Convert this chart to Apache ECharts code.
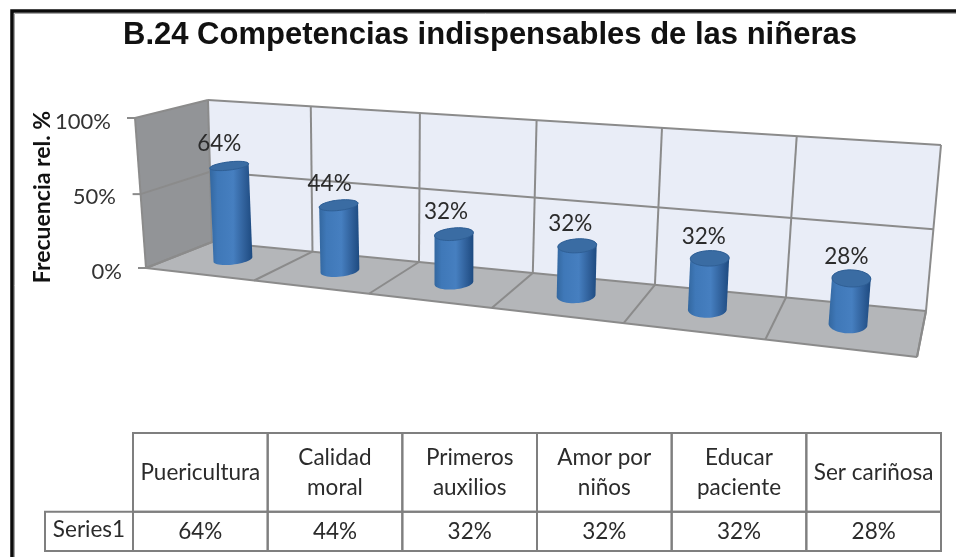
<!DOCTYPE html>
<html><head><meta charset="utf-8">
<style>html,body{margin:0;padding:0;background:#fff}#c{width:956px;height:557px}</style>
<script src="https://cdn.jsdelivr.net/npm/echarts@6/dist/echarts.min.js"></script>
</head><body><div id="c"></div>
<script>
const categories = ['Puericultura','Calidad\nmoral','Primeros\nauxilios','Amor por\nniños','Educar\npaciente','Ser cariñosa'];
const values = [64,44,32,32,32,28];
const yTicks = [0,50,100];
const seriesName = 'Series1';
const titleText = 'B.24 Competencias indispensables de las niñeras';
const yName = 'Frecuencia rel. %';

// projection of the plot box
const backQuad = [[212,242],[926,311],[941,145],[208,100]];
const frontQuad = [[146,268],[917,357],[932,182],[135,118]];
function homography(q){
  const [p0,p1,p2,p3]=q; // (0,0),(1,0),(1,1),(0,1)
  const dx1=p1[0]-p2[0],dx2=p3[0]-p2[0],sx=p0[0]-p1[0]+p2[0]-p3[0];
  const dy1=p1[1]-p2[1],dy2=p3[1]-p2[1],sy=p0[1]-p1[1]+p2[1]-p3[1];
  const d=dx1*dy2-dx2*dy1;
  const g=(sx*dy2-dx2*sy)/d,h=(dx1*sy-sx*dy1)/d;
  const a=p1[0]-p0[0]+g*p1[0],b=p3[0]-p0[0]+h*p3[0],c=p0[0];
  const e=p1[1]-p0[1]+g*p1[1],f=p3[1]-p0[1]+h*p3[1],k=p0[1];
  return (u,v)=>{const w=g*u+h*v+1;return [(a*u+b*v+c)/w,(e*u+f*v+k)/w];};
}
const backH=homography(backQuad), frontH=homography(frontQuad);
const GL=146,GT=122,GW=771,GH=150;
function proj(pt,w){ // pt = pixel from api.coord in main grid; w = depth 0..1
  const u0=(pt[0]-GL)/GW, v=(GT+GH-pt[1])/GH;
  const u=u0-0.01*Math.sin(Math.PI*u0); // stronger foreshortening, as in the picture
  const f=frontH(u,v), b=backH(u,v);
  return [f[0]+(b[0]-f[0])*w, f[1]+(b[1]-f[1])*w];
}
const GRID='#8b8b8b';
function line(a,b,lw){return {type:'line',shape:{x1:a[0],y1:a[1],x2:b[0],y2:b[1]},style:{stroke:GRID,lineWidth:lw||2}};}
function poly(pts,fill){return {type:'polygon',shape:{points:pts},style:{fill:fill}};}
function hull(points){
  const p=points.slice().sort((a,b)=>a[0]-b[0]||a[1]-b[1]);
  const cr=(o,a,b)=>(a[0]-o[0])*(b[1]-o[1])-(a[1]-o[1])*(b[0]-o[0]);
  const lo=[],up=[];
  for(const q of p){while(lo.length>1&&cr(lo[lo.length-2],lo[lo.length-1],q)<=0)lo.pop();lo.push(q);}
  for(const q of p.slice().reverse()){while(up.length>1&&cr(up[up.length-2],up[up.length-1],q)<=0)up.pop();up.push(q);}
  return lo.slice(0,-1).concat(up.slice(0,-1));
}
function renderWalls(params,api){
  const n=categories.length, band=api.size([1,0])[0];
  const C=(i,v)=>{const c=api.coord([0,v]);return [c[0]+(i-0.5)*band,c[1]];};
  const P=(i,v,w)=>proj(C(i,v),w);
  const ch=[];
  ch.push(poly([P(0,0,1),P(n,0,1),P(n,100,1),P(0,100,1)],'#e9edf7'));
  ch.push(poly([P(0,0,0),P(0,0,1),P(0,100,1),P(0,100,0)],'#929497'));
  ch.push(poly([P(0,0,0),P(n,0,0),P(n,0,1),P(0,0,1)],'#b4b6b9'));
  for(const t of yTicks){
    ch.push(line(P(0,t,0),P(0,t,1)));
    ch.push(line(P(0,t,1),P(n,t,1)));
    const a=P(0,t,0); ch.push(line([a[0]-8,a[1]],a));
  }
  for(let i=0;i<=n;i++){
    ch.push(line(P(i,0,1),P(i,100,1)));
    ch.push(line(P(i,0,0),P(i,0,1)));
  }
  ch.push(line(P(0,0,0),P(n,0,0)));
  ch.push(line(P(0,0,0),P(0,100,0)));
  ch.push(line(P(n,0,0),P(n,0,1)));
  return {type:'group',children:ch,silent:true};
}
function renderBar(params,api){
  const i=api.value(0), val=api.value(1);
  const W=0.54, RX=19.5, RW=0.2;
  const top=api.coord([i,val]), base=api.coord([i,0]);
  const ring=(pt)=>{
    const c=proj(pt,W), f=proj(pt,W-RW), b=proj(pt,W+RW);
    const r=proj([pt[0]+40,pt[1]],W);
    const ux=(r[0]-c[0]),uy=(r[1]-c[1]),ul=Math.hypot(ux,uy);
    const out=[];
    const dx=(b[0]-f[0])/2,dy=(b[1]-f[1])/2;
    const rx=Math.sqrt(Math.max(RX*RX-dx*dx,64));
    for(let k=0;k<48;k++){const t=k/48*Math.PI*2;
      out.push([c[0]+rx*Math.cos(t)*ux/ul+dx*Math.sin(t), c[1]+rx*Math.cos(t)*uy/ul+dy*Math.sin(t)]);}
    return {c,out};
  };
  const T=ring(top), B=ring(base);
  const body=hull(T.out.concat(B.out));
  const ch=[];
  ch.push({type:'polygon',shape:{points:body},style:{
    fill:new echarts.graphic.LinearGradient(0,0,1,0,[
      {offset:0,color:'#33679f'},{offset:0.18,color:'#3f78b8'},{offset:0.55,color:'#467fc0'},
      {offset:0.82,color:'#2f5f99'},{offset:1,color:'#1d4a80'}])}});
  ch.push({type:'polygon',shape:{points:T.out},style:{fill:'#3a6ca3',stroke:'#2f5f95',lineWidth:1}});
  const off=-10+5*(i/(categories.length-1));
  ch.push({type:'text',style:{text:val+'%',x:T.c[0]+off,y:T.c[1]-22,align:'center',verticalAlign:'middle',
    font:'22.5px Lato',fill:'#2b2b2b'}});
  return {type:'group',children:ch};
}
function renderTable(params,api){
  const i=api.value(0), band=api.size([1,0])[0], cx=api.coord([i,0])[0];
  const x0=cx-band/2, x1=cx+band/2;
  const yTop=api.coord([i,3])[1], yMid=api.coord([i,1])[1], yBot=api.coord([i,0])[1];
  const st={stroke:'#7f7f7f',fill:'transparent',lineWidth:2};
  const ch=[
    {type:'rect',shape:{x:x0,y:yTop,width:x1-x0,height:yMid-yTop},style:st},
    {type:'rect',shape:{x:x0,y:yMid,width:x1-x0,height:yBot-yMid},style:st},
    {type:'text',style:{text:categories[i],x:cx,y:(yTop+yMid)/2,align:'center',verticalAlign:'middle',
      font:'22.5px Lato',lineHeight:30,fill:'#2b2b2b'}},
    {type:'text',style:{text:api.value(1)+'%',x:cx,y:(yMid+yBot)/2,align:'center',verticalAlign:'middle',
      font:'22.5px Lato',fill:'#2b2b2b'}}
  ];
  if(i===0){
    ch.push({type:'rect',shape:{x:45,y:yMid,width:x0-45,height:yBot-yMid},style:st});
    ch.push({type:'text',style:{text:seriesName,x:(45+x0)/2,y:(yMid+yBot)/2-2,align:'center',verticalAlign:'middle',
      font:'22.5px Lato',fill:'#2b2b2b'}});
  }
  return {type:'group',children:ch,silent:true};
}
const chart=echarts.init(document.getElementById('c'),null,{renderer:'canvas'});
const rows=categories.map((c,i)=>[i,values[i]]);
const tickRich=p=>({fontSize:22,fontFamily:'Lato',color:'#333',padding:[0,p,0,0]});
chart.setOption({
  animation:false,
  backgroundColor:'#fff',
  title:{text:titleText,left:118,top:15,
    textStyle:{fontFamily:'"Liberation Sans"',fontWeight:'bold',fontSize:31,color:'#111'}},
  graphic:[
    {type:'rect',z:-1,shape:{x:12,y:11,width:960,height:560},style:{fill:'#fff',stroke:'#0c0c0c',lineWidth:3.5}},
    {type:'rect',z:-1,shape:{x:14.5,y:13.5,width:960,height:560},style:{fill:'transparent',stroke:'#a5a5a5',lineWidth:1}}
  ],
  grid:[{left:GL,top:GT,width:GW,height:GH,outerBoundsMode:'none'},{left:133,top:433,width:808,height:118,outerBoundsMode:'none'}],
  xAxis:[{gridIndex:0,type:'category',data:categories,show:false},
         {gridIndex:1,type:'category',data:categories,show:false}],
  yAxis:[{gridIndex:0,type:'value',min:0,max:100,interval:50,
      name:yName,nameLocation:'middle',nameGap:103,nameRotate:90,nameMoveOverlap:false,
      nameTextStyle:{fontFamily:'Lato',fontWeight:'bold',fontSize:23,color:'#111',verticalAlign:'middle'},
      axisLine:{show:false},axisTick:{show:false},splitLine:{show:false},
      axisLabel:{margin:24,color:'#333',fontFamily:'Lato',
        formatter:v=>`{a${v}|${v}%}`,
        rich:{a0:tickRich(0),a50:tickRich(6),a100:tickRich(11)}}},
    {gridIndex:1,type:'value',min:0,max:3,show:false}],
  series:[
    {type:'custom',name:'walls',xAxisIndex:0,yAxisIndex:0,data:[[0,0]],renderItem:renderWalls,z:1,clip:false},
    {type:'custom',name:seriesName,xAxisIndex:0,yAxisIndex:0,data:rows,encode:{x:0,y:1},renderItem:renderBar,z:2,clip:false},
    {type:'custom',name:'table',xAxisIndex:1,yAxisIndex:1,data:rows,renderItem:renderTable,z:3,clip:false}
  ]
});
</script></body></html>
